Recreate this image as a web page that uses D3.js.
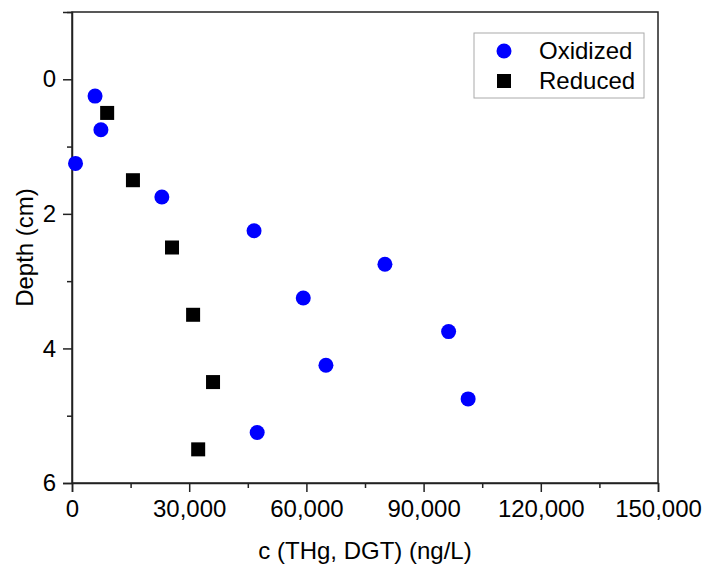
<!DOCTYPE html>
<html>
<head>
<meta charset="utf-8">
<script src="https://cdn.jsdelivr.net/npm/d3@7"></script>
<style>
  body { margin: 0; background: #fff; }
  text { font-family: Arial, "Liberation Sans", sans-serif; fill: #000; }
</style>
</head>
<body>
<div id="chart"></div>
<script>
// data: depth (cm) and concentration (ng/L)
var oxDepth = [0.25, 0.75, 1.25, 1.75, 2.25, 2.75, 3.25, 3.75, 4.25, 4.75, 5.25];
var oxConc  = [5900, 7400, 900, 23000, 46600, 80100, 59200, 96400, 65000, 101400, 47400];
var redDepth = [0.5, 1.5, 2.5, 3.5, 4.5, 5.5];
var redConc  = [9000, 15600, 25600, 31000, 36100, 32300];
var xTicks = [0, 30000, 60000, 90000, 120000, 150000];
var yTicks = [0, 2, 4, 6];
var seriesNames = ["Oxidized", "Reduced"];

var margin = {top: 12, right: 47, bottom: 81, left: 72},
    width = 705 - margin.left - margin.right,
    height = 564 - margin.top - margin.bottom;

var svg = d3.select("#chart")
  .append("svg")
  .attr("width", 705)
  .attr("height", 564)
  .append("g")
  .attr("transform", "translate(" + margin.left + "," + margin.top + ")");

var x = d3.scaleLinear().domain([0, 150000]).range([0, width]);
var y = d3.scaleLinear().domain([-1, 6]).range([0, height]);

var fs = "24px";

// minor ticks first
svg.append("g")
  .attr("transform", "translate(0," + height + ")")
  .call(d3.axisBottom(x).tickValues(d3.range(15000, 150000, 30000)).tickSize(5).tickFormat(""))
  .call(function(g) { g.select(".domain").remove(); });
svg.append("g")
  .call(d3.axisLeft(y).tickValues([-1, 1, 3, 5]).tickSize(5).tickFormat(""))
  .call(function(g) { g.select(".domain").remove(); });

// major axes
var xAxis = svg.append("g")
  .attr("transform", "translate(0," + height + ")")
  .call(d3.axisBottom(x).tickValues(xTicks).tickSize(9).tickPadding(8).tickFormat(d3.format(",")));
xAxis.selectAll("text").style("font-size", fs);

var yAxis = svg.append("g")
  .call(d3.axisLeft(y).tickValues(yTicks).tickSize(9).tickPadding(7).tickFormat(d3.format("d")));
yAxis.selectAll("text").style("font-size", fs);

svg.selectAll(".tick line").attr("stroke", "#222").attr("stroke-width", 1.5);
svg.selectAll(".domain").attr("stroke", "#222").attr("stroke-width", 1.5);

// frame on top and right
svg.append("rect")
  .attr("width", width)
  .attr("height", height)
  .attr("fill", "none")
  .attr("stroke", "#222")
  .attr("stroke-width", 1.5);

// axis titles
svg.append("text")
  .attr("x", width / 2)
  .attr("y", height + 76)
  .attr("text-anchor", "middle")
  .style("font-size", fs)
  .text("c (THg, DGT) (ng/L)");

svg.append("text")
  .attr("transform", "translate(" + (-39) + "," + (height / 2) + ") rotate(-90)")
  .attr("text-anchor", "middle")
  .style("font-size", fs)
  .text("Depth (cm)");

// points
svg.selectAll(".ox")
  .data(oxDepth.map(function(d, i) { return {depth: d, value: oxConc[i]}; }))
  .enter()
  .append("circle")
  .attr("cx", function(d) { return x(d.value); })
  .attr("cy", function(d) { return y(d.depth); })
  .attr("r", 7.5)
  .style("fill", "#0000ff");

var sq = 14;
svg.selectAll(".red")
  .data(redDepth.map(function(d, i) { return {depth: d, value: redConc[i]}; }))
  .enter()
  .append("rect")
  .attr("x", function(d) { return x(d.value) - sq / 2; })
  .attr("y", function(d) { return y(d.depth) - sq / 2; })
  .attr("width", sq)
  .attr("height", sq)
  .style("fill", "#000");

// legend
var legend = svg.append("g")
  .attr("transform", "translate(" + (474 - margin.left) + "," + (33 - margin.top) + ")");
legend.append("rect")
  .attr("width", 170)
  .attr("height", 65)
  .attr("fill", "#fff")
  .attr("stroke", "#aaa")
  .attr("stroke-width", 1);
legend.append("circle")
  .attr("cx", 30).attr("cy", 18).attr("r", 7.5)
  .style("fill", "#0000ff");
legend.append("rect")
  .attr("x", 30 - sq / 2).attr("y", 48 - sq / 2)
  .attr("width", sq).attr("height", sq)
  .style("fill", "#000");
legend.selectAll(".lbl")
  .data(seriesNames)
  .enter()
  .append("text")
  .attr("x", 65)
  .attr("y", function(d, i) { return 18 + i * 30; })
  .attr("dy", "0.35em")
  .style("font-size", fs)
  .text(function(d) { return d; });
</script>
</body>
</html>
